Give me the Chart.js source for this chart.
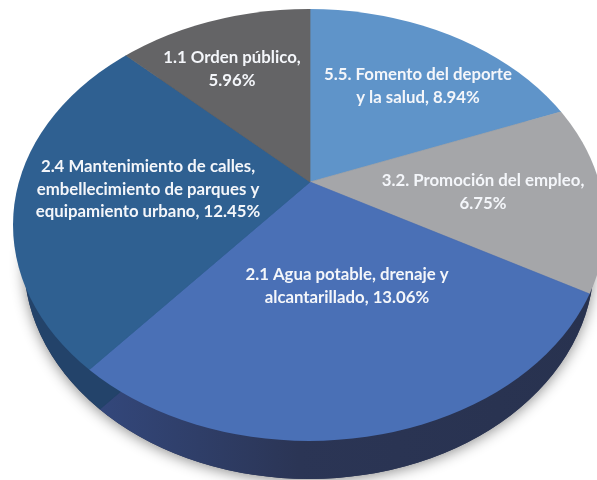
<!DOCTYPE html>
<html>
<head>
<meta charset="utf-8">
<style>
  html, body { margin: 0; padding: 0; background: #fff; }
  canvas { display: block; }
</style>
<script src="https://cdn.jsdelivr.net/npm/chart.js@4/dist/chart.umd.min.js"></script>
</head>
<body>
<canvas id="pie" width="597" height="480"></canvas>
<script>
const categories = [
  "5.5. Fomento del deporte y la salud",
  "3.2. Promoción del empleo",
  "2.1 Agua potable, drenaje y alcantarillado",
  "2.4 Mantenimiento de calles, embellecimiento de parques y equipamiento urbano",
  "1.1 Orden público",
];
const values = [8.94, 6.75, 13.06, 12.45, 5.96];
const topColors = ["#5f94c9", "#a5a6a9", "#4a70b6", "#2f6091", "#646466"];
const sideColors = ["#3a5f88", "#28324f", "#2b3555", "#23436a", "#404042"];

// wrapped label text, the value gets added to the last line
const labelLines = [
  ["5.5. Fomento del deporte", "y la salud, "],
  ["3.2. Promoción del empleo,", ""],
  ["2.1 Agua potable, drenaje y", "alcantarillado, "],
  ["2.4 Mantenimiento de calles,", "embellecimiento de parques y", "equipamiento urbano, "],
  ["1.1 Orden público,", ""],
];
const labelAnchors = [[418, 75], [483, 181], [347, 275], [148, 167], [232, 58]];

// tilt of the disc: pie centre goes to the apex, the outline is clipped to an off centre ellipse
const apex = { x: 310, y: 182 };
const scaleX = 1.7, scaleY = 1.19;
const topFace = { x: 309, y: 225, rx: 296, ry: 216 };
const sideFace = { x: 309, y: 262, rx: 285, ry: 217 };
const sideShift = { x: 10, y: 40 };

function ellipsePath(ctx, e) {
  ctx.beginPath();
  ctx.ellipse(e.x, e.y, e.rx, e.ry, 0, 0, Math.PI * 2);
}

function tilt(ctx, arc, dx, dy) {
  ctx.translate(apex.x + dx, apex.y + dy);
  ctx.scale(scaleX, scaleY);
  ctx.translate(-arc.x, -arc.y);
}

const disc3d = {
  id: "disc3d",
  beforeDatasetsDraw(chart) {
    const ctx = chart.ctx;
    const arcs = chart.getDatasetMeta(0).data;

    // soft shadow under the rim
    ctx.save();
    ctx.shadowColor = "rgba(0,0,0,0.45)";
    ctx.shadowBlur = 14;
    ctx.shadowOffsetX = 0;
    ctx.shadowOffsetY = 2;
    ctx.fillStyle = "#2b3555";
    ellipsePath(ctx, sideFace);
    ctx.fill();
    ctx.restore();

    // rim = same arcs pushed down, dark colours
    ctx.save();
    ellipsePath(ctx, sideFace);
    ctx.clip();
    tilt(ctx, arcs[0], sideShift.x, sideShift.y);
    const toChartX = (x) => (x - apex.x - sideShift.x) / scaleX + arcs[0].x;
    const rimGrad = ctx.createLinearGradient(toChartX(100), 0, toChartX(597), 0);
    rimGrad.addColorStop(0, "#33477b");
    rimGrad.addColorStop(0.4, "#2b3555");
    rimGrad.addColorStop(1, "#28324f");
    arcs.forEach((arc, i) => {
      const oldFill = arc.options.backgroundColor;
      const oldBorder = arc.options.borderColor;
      arc.options.backgroundColor = i === 2 ? rimGrad : sideColors[i];
      arc.options.borderColor = arc.options.backgroundColor;
      arc.draw(ctx);
      arc.options.backgroundColor = oldFill;
      arc.options.borderColor = oldBorder;
    });
    ctx.restore();

    // top face, chart.js draws it inside this state
    ctx.save();
    ellipsePath(ctx, topFace);
    ctx.clip();
    tilt(ctx, arcs[0], 0, 0);
  },
  afterDatasetsDraw(chart) {
    const ctx = chart.ctx;
    ctx.restore();

    ctx.save();
    ctx.fillStyle = "#f4f6fa";
    ctx.font = "bold 16.8px Lato";
    ctx.textAlign = "center";
    ctx.textBaseline = "middle";
    labelLines.forEach((lines, i) => {
      lines.forEach((line, j) => {
        let text = line;
        if (j === lines.length - 1) text += values[i].toFixed(2) + "%";
        ctx.fillText(text, labelAnchors[i][0], labelAnchors[i][1] + j * 22.5);
      });
    });
    ctx.restore();
  },
};

new Chart(document.getElementById("pie"), {
  type: "pie",
  data: {
    labels: categories,
    datasets: [{
      data: values,
      backgroundColor: topColors,
      borderColor: topColors,
      borderWidth: 0.5,
      hoverOffset: 0,
    }],
  },
  options: {
    responsive: false,
    animation: false,
    events: [],
    layout: { padding: 0 },
    plugins: {
      legend: { display: false },
      tooltip: { enabled: false },
    },
  },
  plugins: [disc3d],
});
</script>
</body>
</html>
